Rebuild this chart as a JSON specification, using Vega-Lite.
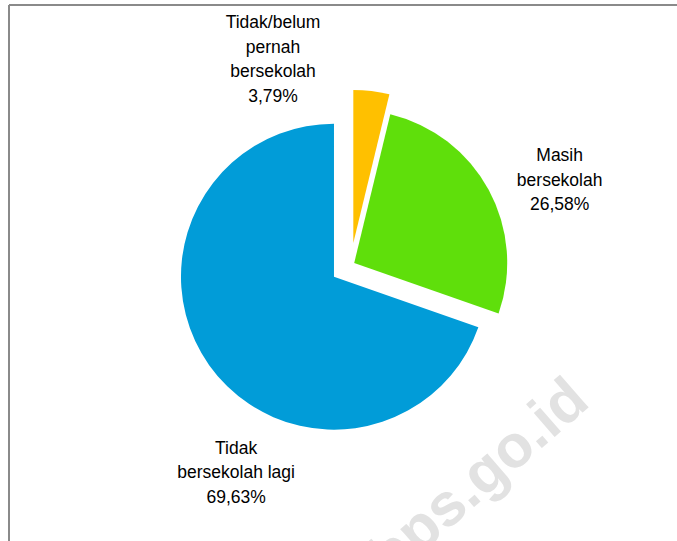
{
  "$schema": "https://vega.github.io/schema/vega-lite/v6.json",
  "autosize": {"type": "none"},
  "width": 668,
  "height": 536,
  "padding": {"left": 9, "top": 5, "right": 0, "bottom": 0},
  "background": "white",
  "config": {"view": {"stroke": null}},
  "data": {
    "values": [
      {"kategori": "Tidak/belum\npernah\nbersekolah", "persen": 3.79, "urut": 1},
      {"kategori": "Masih\nbersekolah", "persen": 26.58, "urut": 2},
      {"kategori": "Tidak\nbersekolah lagi", "persen": 69.63, "urut": 3}
    ]
  },
  "layer": [
    {
      "data": {"values": [{"teks": "bps.go.id"}]},
      "mark": {"type": "text", "angle": -41, "fontSize": 60, "fontWeight": "bold", "font": "Liberation Sans", "color": "#e2e2e2", "align": "right", "baseline": "alphabetic"},
      "encoding": {
        "text": {"field": "teks"},
        "x": {"datum": 241, "type": "quantitative", "scale": {"domain": [-341.7, 326.3], "nice": false, "zero": false}, "axis": null},
        "y": {"datum": 140, "type": "quantitative", "scale": {"domain": [-259.8, 276.2], "reverse": true, "nice": false, "zero": false}, "axis": null}
      }
    },
    {
      "data": {"values": [{}]},
      "mark": {"type": "rule", "color": "#8a8a8a", "strokeWidth": 2},
      "encoding": {"y": {"value": 0}}
    },
    {
      "data": {"values": [{}]},
      "mark": {"type": "rule", "color": "#8a8a8a", "strokeWidth": 2},
      "encoding": {"x": {"value": 0}}
    },
    {
      "transform": [
        {"stack": "persen", "groupby": [], "sort": [{"field": "urut", "order": "ascending"}], "as": ["mulai", "akhir"]},
        {"calculate": "(datum.mulai + datum.akhir) / 2 / 100 * 2 * PI", "as": "sudut"},
        {"calculate": "datum.urut == 1 ? 22 : (datum.urut == 2 ? 4 : 20.5)", "as": "ledak"},
        {"calculate": "datum.ledak * sin(datum.sudut)", "as": "ox"},
        {"calculate": "-datum.ledak * cos(datum.sudut)", "as": "oy"}
      ],
      "mark": {"type": "arc", "radius": 153},
      "encoding": {
        "theta": {"field": "mulai", "type": "quantitative", "stack": null, "scale": {"domain": [0, 100], "range": [0, 6.283185307179586]}},
        "theta2": {"field": "akhir"},
        "color": {"field": "urut", "type": "nominal", "scale": {"domain": [1, 2, 3], "range": ["#ffc000", "#5fdf0b", "#019cd8"]}, "legend": null},
        "x": {"field": "ox", "type": "quantitative", "scale": {"domain": [-341.7, 326.3], "nice": false, "zero": false}, "axis": null},
        "y": {"field": "oy", "type": "quantitative", "scale": {"domain": [-259.8, 276.2], "reverse": true, "nice": false, "zero": false}, "axis": null}
      }
    },
    {
      "transform": [
        {"stack": "persen", "groupby": [], "sort": [{"field": "urut", "order": "ascending"}], "as": ["mulai", "akhir"]},
        {"calculate": "(datum.mulai + datum.akhir) / 2", "as": "tengah"},
        {"calculate": "datum.kategori + '\\n' + replace(format(datum.persen, '.2f'), '.', ',') + '%'", "as": "label"},
        {"filter": "datum.urut == 1"}
      ],
      "mark": {"type": "text", "lineBreak": "\n", "font": "Liberation Sans", "fontSize": 17.5, "lineHeight": 24.5, "align": "center", "baseline": "middle", "color": "#000000", "radius": 213, "dx": -103, "dy": -30},
      "encoding": {
        "text": {"field": "label"},
        "theta": {"field": "tengah", "type": "quantitative", "stack": null},
        "x": {"datum": 0, "type": "quantitative"},
        "y": {"datum": 0, "type": "quantitative"}
      }
    },
    {
      "transform": [
        {"stack": "persen", "groupby": [], "sort": [{"field": "urut", "order": "ascending"}], "as": ["mulai", "akhir"]},
        {"calculate": "(datum.mulai + datum.akhir) / 2", "as": "tengah"},
        {"calculate": "datum.kategori + '\\n' + replace(format(datum.persen, '.2f'), '.', ',') + '%'", "as": "label"},
        {"filter": "datum.urut == 2"}
      ],
      "mark": {"type": "text", "lineBreak": "\n", "font": "Liberation Sans", "fontSize": 17.5, "lineHeight": 24.5, "align": "center", "baseline": "middle", "color": "#000000", "radius": 223, "dx": 13, "dy": -2},
      "encoding": {
        "text": {"field": "label"},
        "theta": {"field": "tengah", "type": "quantitative", "stack": null},
        "x": {"datum": 0, "type": "quantitative"},
        "y": {"datum": 0, "type": "quantitative"}
      }
    },
    {
      "transform": [
        {"stack": "persen", "groupby": [], "sort": [{"field": "urut", "order": "ascending"}], "as": ["mulai", "akhir"]},
        {"calculate": "(datum.mulai + datum.akhir) / 2", "as": "tengah"},
        {"calculate": "datum.kategori + '\\n' + replace(format(datum.persen, '.2f'), '.', ',') + '%'", "as": "label"},
        {"filter": "datum.urut == 3"}
      ],
      "mark": {"type": "text", "lineBreak": "\n", "font": "Liberation Sans", "fontSize": 17.5, "lineHeight": 24.5, "align": "center", "baseline": "middle", "color": "#000000", "radius": 214, "dx": 60, "dy": 60},
      "encoding": {
        "text": {"field": "label"},
        "theta": {"field": "tengah", "type": "quantitative", "stack": null},
        "x": {"datum": 0, "type": "quantitative"},
        "y": {"datum": 0, "type": "quantitative"}
      }
    }
  ]
}
